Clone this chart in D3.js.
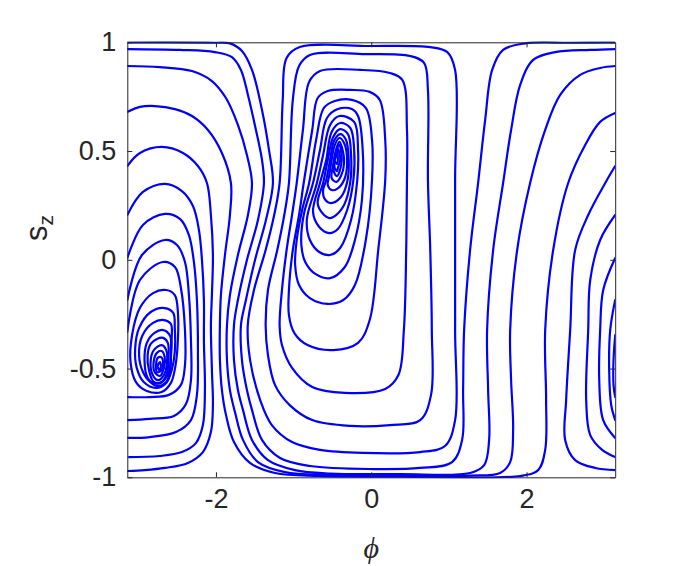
<!DOCTYPE html>
<html>
<head>
<meta charset="utf-8">
<script src="https://cdn.jsdelivr.net/npm/d3@7"></script>
<style>
  html, body { margin: 0; padding: 0; background: #ffffff; }
  svg { display: block; }
  text { font-family: "Liberation Sans", Arial, Helvetica, sans-serif; fill: #262626; }
</style>
</head>
<body>
<svg id="chart" width="680" height="566"></svg>
<script>
// ---------------- data (phi, s_z) ----------------
const xTicks = [-2, 0, 2];
const xTickLabels = ["-2", "0", "2"];
const yTicks = [-1, -0.5, 0, 0.5, 1];
const yTickLabels = ["-1", "-0.5", "0", "0.5", "1"];

// closed orbits around the upper centre
const upperLoops = [
  [[-0.92,0.978],[-0.02,0.983],[0.76,0.978],[0.98,0.955],[1.08,0.873],[1.08,0.367],[1.08,-0.323],[1.08,-0.737],[0.95,-0.856],[0.63,-0.884],[-0.11,-0.888],[-0.66,-0.874],[-1.02,-0.838],[-1.28,-0.760],[-1.43,-0.645],[-1.56,-0.461],[-1.59,-0.300],[-1.51,-0.139],[-1.36,0.045],[-1.25,0.206],[-1.18,0.353],[-1.14,0.735],[-1.09,0.928]],
  [[-0.79,0.942],[-0.08,0.946],[0.50,0.937],[0.68,0.905],[0.73,0.781],[0.73,0.367],[0.76,0.045],[0.78,-0.323],[0.77,-0.621],[0.63,-0.737],[0.24,-0.760],[-0.27,-0.764],[-0.76,-0.737],[-1.05,-0.668],[-1.24,-0.575],[-1.33,-0.438],[-1.36,-0.300],[-1.33,-0.139],[-1.21,0.045],[-1.12,0.206],[-1.06,0.353],[-1.01,0.735],[-0.93,0.891]],
  [[-0.66,0.868],[-0.14,0.873],[0.24,0.859],[0.40,0.827],[0.46,0.597],[0.46,0.367],[0.45,0.045],[0.42,-0.323],[0.35,-0.530],[0.18,-0.594],[-0.34,-0.612],[-0.76,-0.585],[-1.02,-0.497],[-1.15,-0.392],[-1.18,-0.300],[-1.15,-0.139],[-1.09,0.045],[-1.02,0.206],[-0.96,0.353],[-0.88,0.597],[-0.80,0.818]],
  [[-0.56,0.776],[-0.27,0.781],[-0.02,0.772],[0.11,0.735],[0.18,0.551],[0.18,0.367],[0.09,0.045],[-0.02,-0.277],[-0.17,-0.382],[-0.49,-0.415],[-0.82,-0.392],[-0.99,-0.337],[-1.06,-0.254],[-1.06,-0.139],[-1.01,0.045],[-0.93,0.206],[-0.87,0.353],[-0.76,0.597],[-0.69,0.744]],
  [[-0.47,0.730],[-0.25,0.735],[-0.07,0.698],[0.01,0.551],[0.01,0.367],[-0.07,0.091],[-0.21,-0.116],[-0.36,-0.185],[-0.56,-0.203],[-0.79,-0.176],[-0.93,-0.116],[-0.98,-0.024],[-0.96,0.091],[-0.89,0.229],[-0.80,0.353],[-0.71,0.551],[-0.61,0.698]],
  [[-0.43,0.693],[-0.25,0.693],[-0.17,0.661],[-0.11,0.505],[-0.12,0.275],[-0.21,0.091],[-0.34,-0.033],[-0.53,-0.084],[-0.72,-0.065],[-0.85,-0.010],[-0.90,0.068],[-0.87,0.206],[-0.75,0.353],[-0.66,0.505],[-0.57,0.652]],
  [[-0.41,0.661],[-0.22,0.634],[-0.17,0.505],[-0.18,0.367],[-0.26,0.183],[-0.40,0.054],[-0.53,0.022],[-0.67,0.036],[-0.79,0.091],[-0.83,0.183],[-0.70,0.353],[-0.62,0.482],[-0.53,0.620]],
  [[-0.40,0.629],[-0.27,0.606],[-0.22,0.505],[-0.23,0.367],[-0.31,0.229],[-0.43,0.142],[-0.54,0.123],[-0.67,0.151],[-0.75,0.220],[-0.66,0.353],[-0.58,0.459],[-0.51,0.588]],
  [[-0.40,0.601],[-0.30,0.578],[-0.26,0.482],[-0.27,0.358],[-0.35,0.252],[-0.47,0.201],[-0.54,0.192],[-0.63,0.215],[-0.69,0.261],[-0.62,0.353],[-0.56,0.459],[-0.49,0.565]],
  [[-0.40,0.578],[-0.33,0.555],[-0.29,0.459],[-0.31,0.358],[-0.39,0.289],[-0.52,0.261],[-0.60,0.280],[-0.62,0.321],[-0.58,0.367],[-0.53,0.459],[-0.48,0.546]],
  [[-0.41,0.560],[-0.35,0.537],[-0.31,0.450],[-0.35,0.367],[-0.44,0.326],[-0.51,0.321],[-0.56,0.344],[-0.54,0.390],[-0.51,0.459],[-0.47,0.528]],
  [[-0.41,0.542],[-0.38,0.519],[-0.35,0.445],[-0.39,0.385],[-0.45,0.358],[-0.51,0.376],[-0.49,0.436],[-0.45,0.510]],
  [[-0.41,0.528],[-0.39,0.505],[-0.38,0.459],[-0.41,0.404],[-0.44,0.385],[-0.48,0.404],[-0.48,0.450],[-0.45,0.500]],
  [[-0.43,0.510],[-0.41,0.491],[-0.40,0.459],[-0.43,0.422],[-0.44,0.408],[-0.47,0.422],[-0.47,0.459],[-0.45,0.486]],
  [[-0.44,0.496],[-0.43,0.468],[-0.44,0.441],[-0.47,0.454],[-0.45,0.482]]
];

// closed orbits around the lower centre
const lowerLoops = [
  [[-2.64,-0.139],[-2.53,-0.162],[-2.49,-0.240],[-2.49,-0.369],[-2.52,-0.484],[-2.58,-0.566],[-2.70,-0.608],[-2.89,-0.603],[-3.03,-0.562],[-3.10,-0.470],[-3.08,-0.346],[-2.98,-0.222],[-2.81,-0.153]],
  [[-2.66,-0.222],[-2.55,-0.244],[-2.53,-0.314],[-2.53,-0.424],[-2.57,-0.507],[-2.64,-0.566],[-2.77,-0.589],[-2.93,-0.562],[-3.02,-0.497],[-3.04,-0.405],[-2.99,-0.314],[-2.84,-0.240]],
  [[-2.67,-0.277],[-2.58,-0.295],[-2.57,-0.359],[-2.58,-0.451],[-2.61,-0.520],[-2.71,-0.566],[-2.84,-0.562],[-2.94,-0.516],[-2.99,-0.438],[-2.95,-0.350],[-2.81,-0.290]],
  [[-2.68,-0.323],[-2.59,-0.350],[-2.58,-0.424],[-2.59,-0.507],[-2.64,-0.562],[-2.76,-0.580],[-2.88,-0.543],[-2.92,-0.461],[-2.89,-0.382],[-2.79,-0.336]],
  [[-2.68,-0.359],[-2.62,-0.382],[-2.61,-0.447],[-2.63,-0.520],[-2.70,-0.562],[-2.80,-0.562],[-2.86,-0.511],[-2.88,-0.438],[-2.84,-0.387],[-2.76,-0.364]],
  [[-2.70,-0.392],[-2.64,-0.415],[-2.63,-0.470],[-2.67,-0.530],[-2.75,-0.553],[-2.82,-0.525],[-2.84,-0.461],[-2.80,-0.415]],
  [[-2.70,-0.419],[-2.66,-0.447],[-2.67,-0.497],[-2.72,-0.534],[-2.79,-0.516],[-2.80,-0.465],[-2.76,-0.428]],
  [[-2.71,-0.447],[-2.68,-0.474],[-2.71,-0.511],[-2.76,-0.516],[-2.77,-0.479],[-2.75,-0.451]],
  [[-2.72,-0.470],[-2.71,-0.493],[-2.73,-0.507],[-2.75,-0.488]]
];

// orbits running across the whole phase range
const bandCurves = [
  [[-3.1416,0.999],[-2.01,0.998],[-1.82,0.995],[-1.665,0.960],[-1.536,0.873],[-1.407,0.689],[-1.317,0.505],[-1.266,0.353],[-1.356,0.183],[-1.497,-0.001],[-1.614,-0.185],[-1.678,-0.300],[-1.665,-0.461],[-1.601,-0.599],[-1.536,-0.690],[-1.407,-0.828],[-1.175,-0.911],[-0.789,-0.948],[0.023,-0.962],[0.629,-0.957],[1.041,-0.930],[1.170,-0.828],[1.183,-0.599],[1.196,-0.323],[1.273,0.045],[1.376,0.353],[1.467,0.643],[1.557,0.873],[1.698,0.965],[1.982,0.995],[2.562,0.998],[3.1416,0.999]],
  [[-3.1416,0.969],[-2.464,0.965],[-2.013,0.955],[-1.794,0.932],[-1.678,0.873],[-1.588,0.758],[-1.485,0.597],[-1.407,0.459],[-1.382,0.353],[-1.459,0.183],[-1.601,-0.001],[-1.717,-0.185],[-1.768,-0.300],[-1.768,-0.461],[-1.717,-0.599],[-1.652,-0.690],[-1.536,-0.828],[-1.330,-0.921],[-0.982,-0.967],[-0.531,-0.983],[0.371,-0.985],[1.273,-0.980],[1.454,-0.944],[1.518,-0.828],[1.505,-0.599],[1.492,-0.323],[1.570,0.045],[1.698,0.353],[1.801,0.597],[1.918,0.804],[2.085,0.919],[2.369,0.955],[2.820,0.965],[3.1416,0.969]],
  [[-3.1416,0.891],[-2.722,0.886],[-2.309,0.868],[-2.052,0.822],[-1.871,0.744],[-1.717,0.620],[-1.601,0.482],[-1.536,0.353],[-1.588,0.206],[-1.717,0.022],[-1.820,-0.162],[-1.858,-0.300],[-1.858,-0.461],[-1.820,-0.599],[-1.755,-0.700],[-1.652,-0.828],[-1.459,-0.930],[-1.111,-0.976],[-0.531,-0.989],[0.113,-0.992],[1.273,-0.992],[1.660,-0.980],[1.789,-0.930],[1.827,-0.782],[1.801,-0.553],[1.789,-0.323],[1.879,0.045],[2.046,0.353],[2.240,0.597],[2.433,0.758],[2.691,0.850],[2.948,0.882],[3.1416,0.891]],
  [[-3.1416,0.680],[-2.979,0.703],[-2.786,0.707],[-2.528,0.693],[-2.309,0.661],[-2.103,0.597],[-1.923,0.491],[-1.807,0.353],[-1.820,0.206],[-1.884,0.022],[-1.936,-0.162],[-1.949,-0.300],[-1.949,-0.461],[-1.923,-0.599],[-1.871,-0.713],[-1.768,-0.838],[-1.562,-0.934],[-1.240,-0.980],[-0.660,-0.994],[0.371,-0.997],[1.918,-0.994],[2.149,-0.967],[2.240,-0.874],[2.252,-0.645],[2.240,-0.323],[2.343,0.045],[2.536,0.353],[2.755,0.528],[2.948,0.634],[3.1416,0.675]]
];

// large orbits around the lower centre that cross phi = -pi (left piece)
const wrapLeft = [
  [[-3.1416,0.431],[-2.979,0.491],[-2.696,0.519],[-2.425,0.491],[-2.232,0.431],[-2.116,0.353],[-2.065,0.206],[-2.039,0.022],[-2.052,-0.162],[-2.065,-0.300],[-2.052,-0.507],[-2.039,-0.668],[-2.065,-0.792],[-2.168,-0.884],[-2.361,-0.934],[-2.657,-0.957],[-2.915,-0.967],[-3.1416,-0.971]],
  [[-3.1416,0.206],[-2.940,0.312],[-2.657,0.349],[-2.438,0.316],[-2.296,0.247],[-2.219,0.137],[-2.180,-0.001],[-2.155,-0.185],[-2.155,-0.369],[-2.142,-0.599],[-2.168,-0.760],[-2.258,-0.843],[-2.438,-0.884],[-2.722,-0.902],[-3.1416,-0.907]],
  [[-3.1416,0.008],[-2.940,0.160],[-2.657,0.211],[-2.464,0.188],[-2.348,0.114],[-2.284,-0.010],[-2.245,-0.185],[-2.232,-0.415],[-2.245,-0.621],[-2.322,-0.737],[-2.515,-0.792],[-2.851,-0.815],[-3.1416,-0.819]],
  [[-3.1416,-0.185],[-2.953,0.022],[-2.657,0.091],[-2.502,0.068],[-2.399,-0.010],[-2.348,-0.162],[-2.322,-0.369],[-2.322,-0.553],[-2.386,-0.663],[-2.541,-0.718],[-2.851,-0.731],[-3.1416,-0.737]],
  [[-3.1416,-0.332],[-2.979,-0.093],[-2.683,-0.010],[-2.528,-0.033],[-2.451,-0.130],[-2.399,-0.323],[-2.399,-0.484],[-2.451,-0.575],[-2.605,-0.621],[-2.851,-0.631],[-3.1416,-0.631]]
];

// the same orbits re-entering at phi = +pi (right piece)
const wrapRight = [
  [[3.1416,0.431],[3.013,0.353],[2.794,0.206],[2.626,0.045],[2.562,-0.323],[2.510,-0.645],[2.497,-0.828],[2.626,-0.921],[2.884,-0.957],[3.1416,-0.967]],
  [[3.1416,0.206],[2.948,0.091],[2.820,-0.093],[2.794,-0.323],[2.768,-0.645],[2.820,-0.806],[2.974,-0.874],[3.1416,-0.907]],
  [[3.1416,0.008],[2.987,-0.139],[2.948,-0.323],[2.936,-0.553],[2.987,-0.737],[3.1416,-0.819]],
  [[3.1416,-0.185],[3.077,-0.323],[3.064,-0.507],[3.090,-0.668],[3.1416,-0.737]],
  [[3.1416,-0.346],[3.12,-0.461],[3.12,-0.575],[3.1416,-0.631]]
];

// ---------------- drawing ----------------
const svg = d3.select("#chart");
const margin = { left: 127.3, right: 615.2, top: 42.3, bottom: 477.3 };

const x = d3.scaleLinear().domain([-Math.PI, Math.PI]).range([margin.left, margin.right]);
const y = d3.scaleLinear().domain([-1, 1]).range([margin.bottom, margin.top]);

svg.append("defs").append("clipPath").attr("id", "plotclip")
  .append("rect")
  .attr("x", margin.left).attr("y", margin.top - 1)
  .attr("width", margin.right - margin.left).attr("height", margin.bottom - margin.top + 2);

const openLine = d3.line().x(d => x(d[0])).y(d => y(d[1])).curve(d3.curveCatmullRom.alpha(0.5));
const closedLine = d3.line().x(d => x(d[0])).y(d => y(d[1])).curve(d3.curveCatmullRomClosed.alpha(0.5));

const plot = svg.append("g").attr("clip-path", "url(#plotclip)");
const lineStyle = sel => sel.attr("fill", "none").attr("stroke", "#0000ff")
  .attr("stroke-width", 2.2).attr("stroke-linejoin", "round").attr("stroke-linecap", "round");

plot.append("g").selectAll("path").data(bandCurves).join("path").attr("d", openLine).call(lineStyle);
plot.append("g").selectAll("path").data(wrapLeft).join("path").attr("d", openLine).call(lineStyle);
plot.append("g").selectAll("path").data(wrapRight).join("path").attr("d", openLine).call(lineStyle);
plot.append("g").selectAll("path").data(upperLoops).join("path").attr("d", closedLine).call(lineStyle);
plot.append("g").selectAll("path").data(lowerLoops).join("path").attr("d", closedLine).call(lineStyle);

// axes (MATLAB-like box with inward ticks)
const axisColor = "#262626";
const tickLen = 5;
const fontSize = 27;

const gBottom = svg.append("g").attr("transform", `translate(0,${margin.bottom})`)
  .call(d3.axisBottom(x).tickValues(xTicks).tickSizeInner(-tickLen).tickSizeOuter(0).tickPadding(12)
    .tickFormat((d, i) => xTickLabels[i]));
const gTop = svg.append("g").attr("transform", `translate(0,${margin.top})`)
  .call(d3.axisTop(x).tickValues(xTicks).tickSizeInner(-tickLen).tickSizeOuter(0).tickFormat(""));
const gLeft = svg.append("g").attr("transform", `translate(${margin.left},0)`)
  .call(d3.axisLeft(y).tickValues(yTicks).tickSizeInner(-tickLen).tickSizeOuter(0).tickPadding(11)
    .tickFormat((d, i) => yTickLabels[i]));
const gRight = svg.append("g").attr("transform", `translate(${margin.right},0)`)
  .call(d3.axisRight(y).tickValues(yTicks).tickSizeInner(-tickLen).tickSizeOuter(0).tickFormat(""));

[gBottom, gTop, gLeft, gRight].forEach(g => {
  g.select(".domain").attr("stroke", axisColor).attr("stroke-width", 1);
  g.selectAll(".tick line").attr("stroke", axisColor).attr("stroke-width", 1);
  g.selectAll(".tick text").attr("fill", axisColor)
    .style("font-family", '"Liberation Sans", Arial, Helvetica, sans-serif')
    .style("font-size", fontSize + "px");
});
gBottom.selectAll(".tick text").attr("dy", "0.71em");

// axis labels
svg.append("text")
  .attr("x", (margin.left + margin.right) / 2).attr("y", 558)
  .attr("text-anchor", "middle")
  .style("font-family", '"Liberation Serif", "DejaVu Serif", serif')
  .style("font-style", "italic").style("font-size", "30px")
  .text("ϕ");

const yl = svg.append("text")
  .attr("transform", `translate(47,228) rotate(-90)`)
  .attr("text-anchor", "middle")
  .style("font-size", "31px");
yl.append("tspan").text("s");
yl.append("tspan").attr("dy", "0.3em").style("font-size", "21px").text("z");
</script>
</body>
</html>
